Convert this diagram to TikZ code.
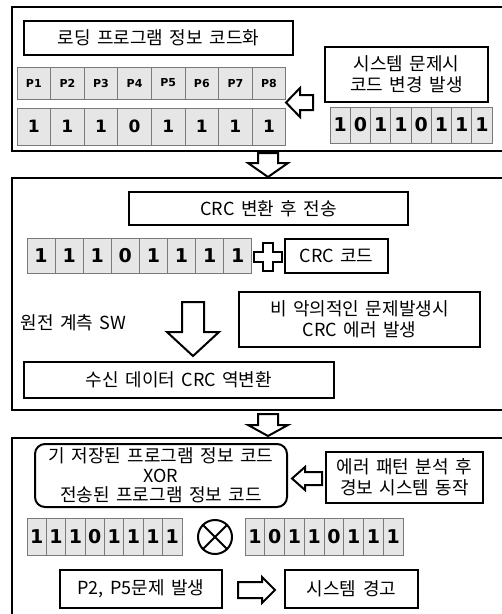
\documentclass[tikz,border=0pt]{standalone}
\usepackage{fontspec}
\setmainfont{Noto Sans CJK KR}[WordSpace={1.6}]
\newfontfamily\dg{DejaVu Sans}
\definecolor{cellfill}{HTML}{E6E6E6}
\definecolor{cellline}{HTML}{7A7A7A}
\begin{document}
\begin{tikzpicture}[x=1pt,y=-1pt,
 frame/.style={draw, line width=2.5pt},
 box/.style={draw, line width=2pt, fill=white, align=center, inner sep=0pt, font=\fontsize{18}{21}\selectfont},
 cell/.style={draw=cellline, fill=cellfill, line width=0.8pt, inner sep=0pt, font=\dg\bfseries\fontsize{19}{19}\selectfont},
 plabel/.style={cell, font=\dg\bfseries\fontsize{11}{11}\selectfont},
 harrow/.style={draw, line width=2pt, fill=white, line join=miter}
]
\useasboundingbox (0,0) rectangle (502,614);
\clip (0,0) rectangle (502,614);

% ---------- frame 1
\draw[frame] (12,7) rectangle (530,151);
\node[box, minimum width=269pt, minimum height=34pt] (t1) at (158.5,38) {로딩 프로그램 정보 코드화};
\foreach \p [count=\i] in {P1,P2,P3,P4,P5,P6,P7,P8}
  \node[plabel, minimum width=33.6pt, minimum height=32pt] (pa\i) at ({17+(\i-0.5)*33.6},83) {\p};
\foreach \b [count=\i] in {1,1,1,0,1,1,1,1}
  \node[cell, font=\dg\bfseries\fontsize{17}{17}\selectfont, minimum width=33.6pt, minimum height=37pt] (va\i) at ({17+(\i-0.5)*33.6},126.5) {\b};
\node[box, minimum width=163pt, minimum height=55pt] (chg) at (406.5,74.5) {시스템 문제시\\코드 변경 발생};
\foreach \b [count=\i] in {1,0,1,1,0,1,1,1}
  \node[cell, minimum width=20.25pt, minimum height=36pt] (vb\i) at ({330+(\i-0.5)*20.25},125) {\b};
\draw[harrow] (313,95) -- (300,95) -- (300,88) -- (286,102.5) -- (300,117) -- (300,110) -- (313,110) -- cycle;

% arrow 1 -> 2
\draw[harrow] (258,153) -- (278,153) -- (278,163) -- (288,163) -- (268,177) -- (248,163) -- (258,163) -- cycle;

% ---------- frame 2
\draw[frame] (12,178) rectangle (530,410);
\node[box, minimum width=279pt, minimum height=33pt] (crc) at (268.5,208.5) {CRC 변환 후 전송};
\foreach \b [count=\i] in {1,1,1,0,1,1,1,1}
  \node[cell, minimum width=28.1pt, minimum height=35pt] (vc\i) at ({27+(\i-0.5)*28.1},255.5) {\b};
\draw[harrow] (263,243) -- (273,243) -- (273,252) -- (282,252) -- (282,262) -- (273,262) -- (273,271) -- (263,271) -- (263,262) -- (254,262) -- (254,252) -- (263,252) -- cycle;
\node[box, minimum width=103pt, minimum height=34pt] (code) at (336.5,256) {CRC 코드};
\node[font=\fontsize{18}{21}\selectfont, inner sep=0pt] (sw) at (73.5,323) {원전 계측 SW};
\draw[harrow] (182,302) -- (204,302) -- (204,332) -- (219,332) -- (193,356) -- (167,332) -- (182,332) -- cycle;
\node[box, minimum width=241pt, minimum height=55pt] (err) at (359.5,319.5) {비 악의적인 문제발생시\\CRC 에러 발생};
\node[box, minimum width=310pt, minimum height=36pt] (inv) at (179,380) {수신 데이터 CRC 역변환};

% arrow 2 -> 3
\draw[harrow] (258,414) -- (278,414) -- (278,425) -- (288,425) -- (268,436) -- (248,425) -- (258,425) -- cycle;

% ---------- frame 3
\draw[frame] (12,438) rectangle (530,640);
\node[box, rounded corners=10pt, minimum width=252pt, minimum height=63pt, font=\fontsize{18}{19.5}\selectfont] (cmp) at (161,475.5) {기 저장된 프로그램 정보 코드\\XOR\\전송된 프로그램 정보 코드};
\node[box, minimum width=157pt, minimum height=51pt] (pat) at (404.5,477.5) {에러 패턴 분석 후\\경보 시스템 동작};
\draw[harrow] (322,472) -- (305,472) -- (305,467) -- (292,478.5) -- (305,490) -- (305,485) -- (322,485) -- cycle;
\foreach \b [count=\i] in {1,1,1,0,1,1,1,1}
  \node[cell, minimum width=19.375pt, minimum height=37pt] (vd\i) at ({27+(\i-0.5)*19.375},536.5) {\b};
\node[circle, draw, line width=2pt, minimum size=34pt, inner sep=0pt] (xor) at (215,537) {};
\draw[line width=2pt] (xor.north west) -- (xor.south east) (xor.north east) -- (xor.south west);
\foreach \b [count=\i] in {1,0,1,1,0,1,1,1}
  \node[cell, minimum width=19.75pt, minimum height=37pt] (ve\i) at ({245+(\i-0.5)*19.75},536.5) {\b};
\node[box, minimum width=162pt, minimum height=38pt] (p25) at (141,589) {P2, P5문제 발생};
\draw[harrow] (238,582) -- (262,582) -- (262,577) -- (275,590) -- (262,603) -- (262,598) -- (238,598) -- cycle;
\node[box, minimum width=133pt, minimum height=38pt] (warn) at (351.5,589) {시스템 경고};
\end{tikzpicture}
\end{document}
